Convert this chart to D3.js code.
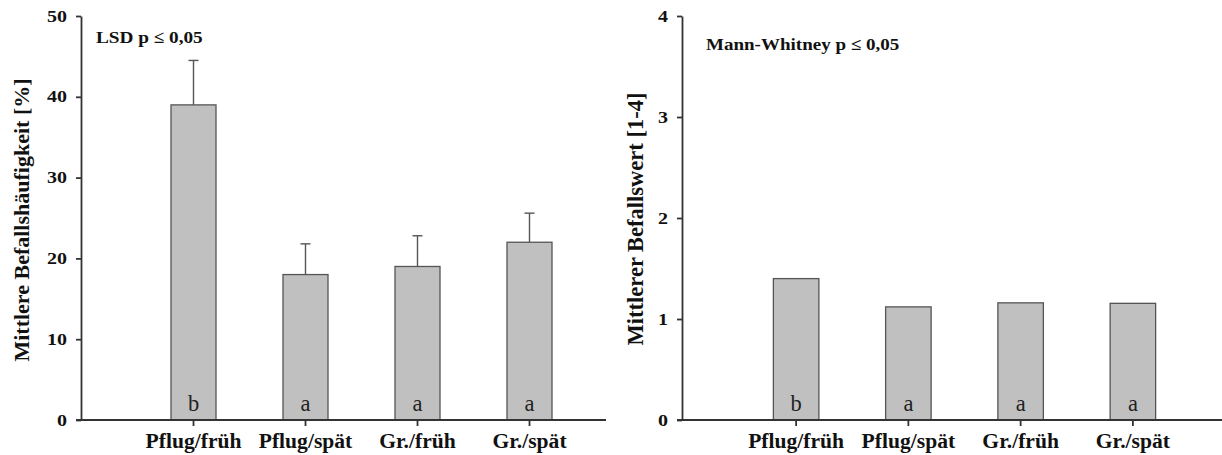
<!DOCTYPE html>
<html>
<head>
<meta charset="utf-8">
<script src="https://cdn.jsdelivr.net/npm/d3@7/dist/d3.min.js"></script>
<style>
  html, body { margin: 0; padding: 0; background: #fff; }
  svg { display: block; }
  .tick text { font-family: "Liberation Serif", "Times New Roman", serif; font-weight: bold; }
</style>
</head>
<body>
<svg id="chart" width="1222" height="455"></svg>
<script>
// Treatment groups (tillage / sowing date)
const categories = ["Pflug/früh", "Pflug/spät", "Gr./früh", "Gr./spät"];

// Left panel: mean infestation frequency [%] with upper error bar
const frequencyMeans = [39, 18, 19, 22];
const frequencyErrors = [5.5, 3.8, 3.8, 3.6];
const frequencyLetters = ["b", "a", "a", "a"];
const frequencyTicks = [0, 10, 20, 30, 40, 50];

// Right panel: mean infestation score [1-4]
const scoreMeans = [1.4, 1.12, 1.16, 1.155];
const scoreLetters = ["b", "a", "a", "a"];
const scoreTicks = [0, 1, 2, 3, 4];

const svg = d3.select("#chart");
const serif = "'Liberation Serif', 'Times New Roman', serif";
const axisColor = "#333";
const textColor = "#111";

function panel(opts) {
  const g = svg.append("g");
  const y = d3.scaleLinear().domain(opts.yDomain).range([420, 16]);
  const x = d3.scaleBand()
    .domain(categories)
    .range(opts.xRange)
    .paddingInner(opts.padding)
    .paddingOuter(opts.padding / 2);

  // bars
  g.selectAll("rect.bar")
    .data(categories)
    .join("rect")
    .attr("class", "bar")
    .attr("x", d => x(d))
    .attr("width", x.bandwidth())
    .attr("y", (d, i) => y(opts.values[i]))
    .attr("height", (d, i) => y(0) - y(opts.values[i]))
    .attr("fill", "#c0c0c0")
    .attr("stroke", "#555")
    .attr("stroke-width", 1.3);

  // upper error bars
  if (opts.errors) {
    const eb = g.selectAll("g.err")
      .data(categories)
      .join("g")
      .attr("class", "err")
      .attr("stroke", "#555")
      .attr("stroke-width", 1.4);
    eb.append("line")
      .attr("x1", d => x(d) + x.bandwidth() / 2)
      .attr("x2", d => x(d) + x.bandwidth() / 2)
      .attr("y1", (d, i) => y(opts.values[i]))
      .attr("y2", (d, i) => y(opts.values[i] + opts.errors[i]));
    eb.append("line")
      .attr("x1", d => x(d) + x.bandwidth() / 2 - 5)
      .attr("x2", d => x(d) + x.bandwidth() / 2 + 5)
      .attr("y1", (d, i) => y(opts.values[i] + opts.errors[i]))
      .attr("y2", (d, i) => y(opts.values[i] + opts.errors[i]));
  }

  // significance letters
  g.selectAll("text.letter")
    .data(categories)
    .join("text")
    .attr("class", "letter")
    .attr("x", d => x(d) + x.bandwidth() / 2)
    .attr("y", 411)
    .attr("text-anchor", "middle")
    .attr("font-family", serif)
    .attr("font-size", 22.5)
    .attr("fill", "#222")
    .text((d, i) => opts.letters[i]);

  // y axis
  const tickStretch = 1.25;
  const yAxis = g.append("g")
    .attr("transform", `translate(${opts.axisX},0)`)
    .call(d3.axisLeft(y).tickValues(opts.ticks).tickFormat(d3.format("d"))
      .tickSize(5).tickSizeOuter(0).tickPadding(9));
  yAxis.selectAll("path, line").attr("stroke", axisColor).attr("stroke-width", 1.8);
  yAxis.selectAll("text")
    .attr("font-size", 16)
    .attr("fill", textColor)
    .attr("x", -14 / tickStretch)
    .attr("transform", `scale(${tickStretch},1)`);

  // x axis (ticks + labels) and baseline
  const xAxis = g.append("g")
    .attr("transform", `translate(0,${y(0)})`)
    .call(d3.axisBottom(x).tickSize(6).tickSizeOuter(0).tickPadding(8));
  xAxis.select(".domain").remove();
  xAxis.selectAll("line").attr("stroke", axisColor).attr("stroke-width", 1.8);
  xAxis.selectAll("text")
    .attr("font-size", 20)
    .attr("fill", textColor)
    .attr("transform", "scale(1.08,1)");
  g.append("line")
    .attr("x1", opts.axisX - 5).attr("x2", opts.xEnd)
    .attr("y1", y(0)).attr("y2", y(0))
    .attr("stroke", axisColor).attr("stroke-width", 1.8);

  // y axis title
  g.append("text")
    .attr("transform", `translate(${opts.titleX},${opts.titleY}) rotate(-90)`)
    .attr("text-anchor", "middle")
    .attr("font-family", serif)
    .attr("font-weight", "bold")
    .attr("font-size", opts.titleSize)
    .attr("fill", textColor)
    .text(opts.yTitle);

  // test annotation
  g.append("text")
    .attr("transform", `translate(${opts.noteX},${opts.noteY}) scale(${opts.noteStretch},1)`)
    .attr("font-family", serif)
    .attr("font-weight", "bold")
    .attr("font-size", opts.noteSize)
    .attr("fill", textColor)
    .text(opts.note);
}

panel({
  yDomain: [0, 50], ticks: frequencyTicks,
  values: frequencyMeans, errors: frequencyErrors, letters: frequencyLetters,
  xRange: [137.5, 585.5], padding: 1 - 45 / 112,
  axisX: 81, xEnd: 606,
  yTitle: "Mittlere Befallshäufigkeit [%]", titleX: 28.5, titleY: 220, titleSize: 22,
  note: "LSD p ≤ 0,05", noteX: 96, noteY: 43, noteSize: 17.5, noteStretch: 1.1
});

panel({
  yDomain: [0, 4], ticks: scoreTicks,
  values: scoreMeans, letters: scoreLetters,
  xRange: [740, 1189], padding: 1 - 45.5 / 112.25,
  axisX: 682, xEnd: 1222,
  yTitle: "Mittlerer Befallswert [1-4]", titleX: 643, titleY: 219, titleSize: 22.5,
  note: "Mann-Whitney p ≤ 0,05", noteX: 706, noteY: 50, noteSize: 17, noteStretch: 1.12
});
</script>
</body>
</html>
